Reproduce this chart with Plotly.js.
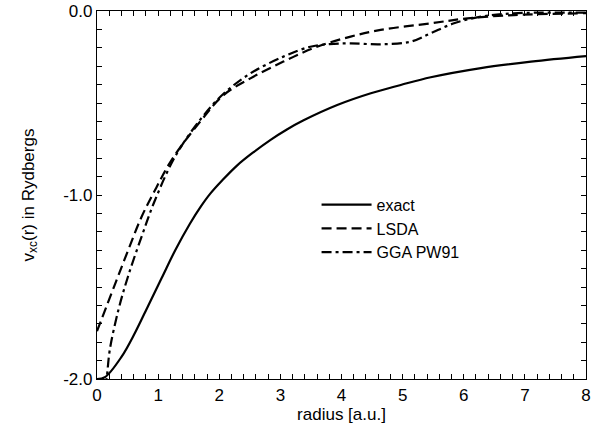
<!DOCTYPE html>
<html>
<head>
<meta charset="utf-8">
<script src="https://cdn.plot.ly/plotly-3.0.1.min.js"></script>
<style>html,body{margin:0;padding:0;background:#fff;}#chart{width:605px;height:431px;}</style>
</head>
<body>
<div id="chart"></div>
<script>
const exactX = [0, 0.13, 0.4, 0.62, 0.84, 1.06, 1.28, 1.52, 1.7, 1.85, 2.05, 2.29, 2.55, 2.84, 3.1, 3.38, 3.93, 4.48, 4.97, 5.46, 6.28, 7.1, 8.0];
const exactY = [-2.0, -1.99, -1.88, -1.75, -1.60, -1.45, -1.30, -1.156, -1.062, -0.994, -0.92, -0.84, -0.77, -0.70, -0.645, -0.594, -0.511, -0.447, -0.402, -0.36, -0.31, -0.275, -0.245];

const lsdaX = [0, 0.3, 0.51, 0.73, 0.95, 1.22, 1.69, 2.07, 2.51, 3.05, 3.6, 4.15, 4.64, 5.46, 6.06, 6.82, 8.0];
const lsdaY = [-1.74, -1.48, -1.30, -1.118, -0.973, -0.81, -0.60, -0.457, -0.366, -0.275, -0.194, -0.139, -0.103, -0.067, -0.04, -0.022, -0.012];

const ggaX = [0.13, 0.16, 0.21, 0.35, 0.51, 0.73, 0.95, 1.28, 1.69, 2.07, 2.51, 3.05, 3.49, 3.8, 4.15, 4.64, 5.13, 5.46, 5.84, 6.28, 6.82, 8.0];
const ggaY = [-2.05, -1.99, -1.84, -1.625, -1.44, -1.226, -1.027, -0.79, -0.59, -0.45, -0.339, -0.248, -0.194, -0.18, -0.176, -0.181, -0.167, -0.121, -0.067, -0.031, -0.0125, -0.009];

// tick positions (every minor step) and their labels ('' = unlabeled minor tick)
const xTickVals = [0,0.2,0.4,0.6,0.8,1,1.2,1.4,1.6,1.8,2,2.2,2.4,2.6,2.8,3,3.2,3.4,3.6,3.8,4,4.2,4.4,4.6,4.8,5,5.2,5.4,5.6,5.8,6,6.2,6.4,6.6,6.8,7,7.2,7.4,7.6,7.8,8];
const xTickText = ['0','','','','','1','','','','','2','','','','','3','','','','','4','','','','','5','','','','','6','','','','','7','','','','','8'];
const yTickVals = [0,-0.1,-0.2,-0.3,-0.4,-0.5,-0.6,-0.7,-0.8,-0.9,-1,-1.1,-1.2,-1.3,-1.4,-1.5,-1.6,-1.7,-1.8,-1.9,-2];
const yTickText = ['0.0','','','','','','','','','','-1.0','','','','','','','','','','-2.0'];

const FONT = 'Liberation Sans, Arial, Helvetica, sans-serif';

const traces = [
  {x: exactX, y: exactY, name: 'exact', mode: 'lines', line: {color: '#000', width: 2.2, shape: 'spline', smoothing: 1}},
  {x: lsdaX, y: lsdaY, name: 'LSDA', mode: 'lines', line: {color: '#000', width: 2.2, shape: 'spline', dash: '10px,5px'}},
  {x: ggaX, y: ggaY, name: 'GGA PW91', mode: 'lines', line: {color: '#000', width: 2.2, shape: 'spline', dash: '10px,4px,3px,4px'}}
];

const layout = {
  width: 605, height: 431,
  margin: {l: 97, r: 19, t: 11, b: 52},
  paper_bgcolor: '#fff', plot_bgcolor: '#fff',
  font: {family: FONT, color: '#000'},
  showlegend: true,
  legend: {x: 0.449, y: 0.52, xanchor: 'left', yanchor: 'top', bgcolor: 'rgba(0,0,0,0)',
           font: {family: FONT, size: 16, color: '#000'}, itemwidth: 50, tracegroupgap: 0},
  xaxis: {
    range: [0, 8], tickmode: 'array', tickvals: xTickVals, ticktext: xTickText,
    showgrid: false, zeroline: false, showline: true, linecolor: '#000', linewidth: 1.2, mirror: 'allticks',
    ticks: 'inside', ticklen: 5, tickwidth: 1, tickcolor: '#000',
    tickfont: {family: FONT, size: 17, color: '#000'},
    title: {text: 'radius [a.u.]', font: {family: FONT, size: 17, color: '#000'}, standoff: 4}
  },
  yaxis: {
    range: [-2, 0], tickmode: 'array', tickvals: yTickVals, ticktext: yTickText,
    showgrid: false, zeroline: false, showline: true, linecolor: '#000', linewidth: 1.2, mirror: 'allticks',
    ticks: 'inside', ticklen: 5, tickwidth: 1, tickcolor: '#000',
    tickfont: {family: FONT, size: 17, color: '#000'},
    title: {text: 'v<sub>xc</sub>(r) in Rydbergs', font: {family: FONT, size: 17, color: '#000'}, standoff: 24}
  }
};

Plotly.newPlot('chart', traces, layout, {displayModeBar: false});
</script>
</body>
</html>
